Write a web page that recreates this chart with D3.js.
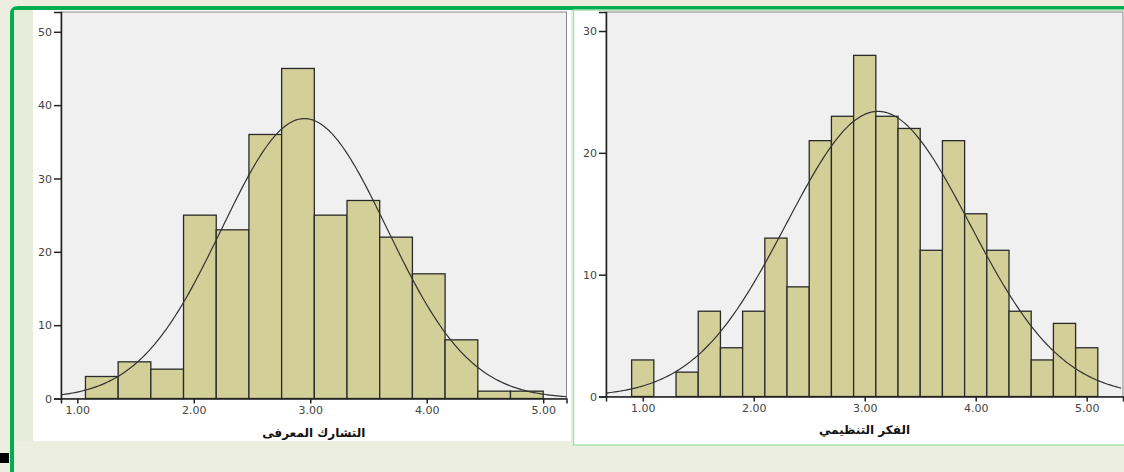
<!DOCTYPE html>
<html>
  <head>
    <meta charset="utf-8">
    <title>Histograms</title>
    <script src="https://d3js.org/d3.v7.min.js"></script>
    <style>
      body { margin: 0; background: #eceee0; }
      svg { display: block; }
      .tick text { font-family: "DejaVu Sans", sans-serif; font-size: 11px; fill: #444; }
      .title { font-family: "DejaVu Sans", sans-serif; font-size: 12px; font-weight: bold; fill: #111; }
    </style>
  </head>
  <body>
    <div id="chart"></div>
    <script>
      // data
      const xTicks = [1, 2, 3, 4, 5];
      const leftYTicks = [0, 10, 20, 30, 40, 50];
      const rightYTicks = [0, 10, 20, 30];
      const leftTitle = "التشارك المعرفى";
      const rightTitle = "الفكر التنظيمي";
      const leftBinStart = 1.07, leftBinWidth = 0.2807;
      const leftCounts = [3, 5, 4, 25, 23, 36, 45, 25, 27, 22, 17, 8, 1, 1];
      const rightBinStart = 0.9, rightBinWidth = 0.2;
      const rightCounts = [3, 0, 2, 7, 4, 7, 13, 9, 21, 23, 28, 23, 22, 12, 21, 15, 12, 7, 3, 6, 4];
      const leftMean = 2.95, leftSd = 0.71;
      const rightMean = 3.12, rightSd = 0.825;

      const svg = d3.select("#chart").append("svg")
        .attr("width", 1124)
        .attr("height", 472);

      // frame
      svg.append("rect").attr("width", 1124).attr("height", 472).attr("fill", "#eceee0");
      svg.append("rect").attr("x", 0).attr("y", 453).attr("width", 9).attr("height", 10).attr("fill", "#000");
      svg.append("path")
        .attr("d", "M12,472 L12,14 Q12,8 18,8 L1124,8")
        .attr("fill", "none").attr("stroke", "#00b050").attr("stroke-width", 4);
      svg.append("rect").attr("x", 14).attr("y", 10).attr("width", 19).attr("height", 431).attr("fill", "#e6eedb");
      svg.append("rect").attr("x", 33).attr("y", 10).attr("width", 538).attr("height", 431).attr("fill", "#fff");
      svg.append("rect").attr("x", 573.5).attr("y", 10).attr("width", 560).attr("height", 435)
        .attr("fill", "#fff").attr("stroke", "#a5dfb2").attr("stroke-width", 1.5);

      function histogram(opt) {
        const x = d3.scaleLinear().domain(opt.xDomain).range([opt.left, opt.right]);
        const y = d3.scaleLinear().domain(opt.yDomain).range([opt.bottom, opt.top]);
        const g = svg.append("g");
        g.append("rect")
          .attr("x", opt.left).attr("y", opt.top)
          .attr("width", opt.right - opt.left).attr("height", opt.bottom - opt.top)
          .attr("fill", "#f0f0f0").attr("stroke", "#888").attr("stroke-width", 1);
        const bins = opt.counts.map(function(c, i) {
          return { x0: opt.binStart + i * opt.binWidth, x1: opt.binStart + (i + 1) * opt.binWidth, n: c };
        }).filter(function(d) { return d.n > 0; });
        g.selectAll(".bar")
          .data(bins)
          .join("rect")
            .attr("class", "bar")
            .attr("x", function(d) { return x(d.x0); })
            .attr("y", function(d) { return y(d.n); })
            .attr("width", function(d) { return x(d.x1) - x(d.x0); })
            .attr("height", function(d) { return y(0) - y(d.n); })
            .attr("fill", "#d3cf98")
            .attr("stroke", "#2a2a2a")
            .attr("stroke-width", 1.3);
        // fitted normal curve
        const total = d3.sum(opt.counts);
        const pts = d3.range(opt.xDomain[0], opt.xDomain[1] + 0.001, 0.02).map(function(v) {
          const z = (v - opt.mean) / opt.sd;
          return [v, total * opt.binWidth * Math.exp(-0.5 * z * z) / (opt.sd * Math.sqrt(2 * Math.PI))];
        });
        g.append("path")
          .datum(pts)
          .attr("d", d3.line().x(function(d) { return x(d[0]); }).y(function(d) { return y(d[1]); }))
          .attr("fill", "none").attr("stroke", "#333").attr("stroke-width", 1.2);
        // axes
        const yAxis = g.append("g")
          .attr("transform", "translate(" + opt.left + ",0)")
          .call(d3.axisLeft(y).tickValues(opt.yTicks).tickSize(7).tickPadding(2).tickFormat(d3.format("d")));
        yAxis.select(".domain").attr("stroke", "#222").attr("stroke-width", 1.5);
        yAxis.selectAll(".tick line").attr("stroke", "#222").attr("stroke-width", 1.5);
        const xAxis = g.append("g")
          .attr("transform", "translate(0," + opt.bottom + ")")
          .call(d3.axisBottom(x).tickValues(xTicks).tickSize(5).tickPadding(3).tickFormat(d3.format(".2f")));
        xAxis.select(".domain").attr("stroke", "#222").attr("stroke-width", 1.5);
        xAxis.selectAll(".tick line").attr("stroke", "#222").attr("stroke-width", 1.5);
        g.append("text")
          .attr("class", "title")
          .attr("x", (opt.left + opt.right) / 2)
          .attr("y", opt.titleY)
          .attr("text-anchor", "middle")
          .attr("direction", "rtl")
          .text(opt.title);
      }

      histogram({
        left: 61, right: 566.5, top: 12, bottom: 398.5,
        xDomain: [0.86, 5.20], yDomain: [0, 52.7],
        yTicks: leftYTicks, counts: leftCounts,
        binStart: leftBinStart, binWidth: leftBinWidth,
        mean: leftMean, sd: leftSd,
        title: leftTitle, titleY: 437
      });
      histogram({
        left: 606, right: 1123, top: 12, bottom: 396.5,
        xDomain: [0.669, 5.327], yDomain: [0, 31.56],
        yTicks: rightYTicks, counts: rightCounts,
        binStart: rightBinStart, binWidth: rightBinWidth,
        mean: rightMean, sd: rightSd,
        title: rightTitle, titleY: 434
      });
    </script>
  </body>
</html>
